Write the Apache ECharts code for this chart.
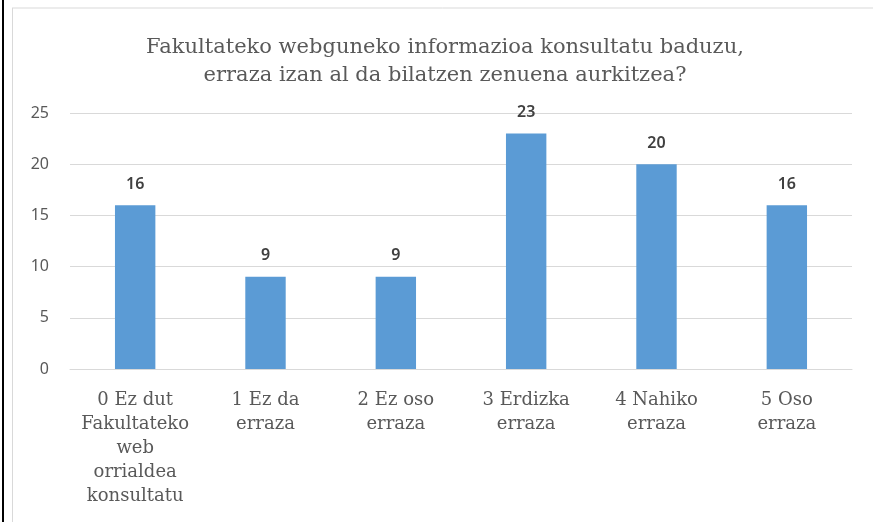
<!DOCTYPE html>
<html>
<head>
<meta charset="utf-8">
<script src="https://cdn.jsdelivr.net/npm/echarts@6/dist/echarts.min.js"></script>
<style>
  html, body { margin: 0; padding: 0; background: #fff; }
  #chart { width: 873px; height: 522px; }
</style>
</head>
<body>
<div id="chart"></div>
<script>
  const categories = [
    "0 Ez dut\nFakultateko\nweb\norrialdea\nkonsultatu",
    "1 Ez da\nerraza",
    "2 Ez oso\nerraza",
    "3 Erdizka\nerraza",
    "4 Nahiko\nerraza",
    "5 Oso\nerraza"
  ];
  const values = [16, 9, 9, 23, 20, 16];
  const yTicks = [0, 5, 10, 15, 20, 25];

  const chart = echarts.init(document.getElementById("chart"));
  const option = {
    animation: false,
    title: {
      text: "Fakultateko webguneko informazioa konsultatu baduzu,\nerraza izan al da bilatzen zenuena aurkitzea?",
      left: 440,
      top: 29,
      textAlign: "center",
      textStyle: {
        fontFamily: "DejaVu Serif",
        fontSize: 21,
        fontWeight: "normal",
        color: "#595959",
        lineHeight: 28
      }
    },
    graphic: [
      { type: "rect", shape: { x: 2, y: 0, width: 2, height: 522 }, style: { fill: "#000" } },
      { type: "line", shape: { x1: 12, y1: 8, x2: 873, y2: 8 }, style: { stroke: "#d9d9d9", lineWidth: 1 } },
      { type: "line", shape: { x1: 12.5, y1: 8, x2: 12.5, y2: 522 }, style: { stroke: "#d9d9d9", lineWidth: 1 } }
    ],
    grid: { left: 70, right: 21, top: 113, bottom: 153 },
    xAxis: {
      type: "category",
      data: categories,
      axisLine: { lineStyle: { color: "#d9d9d9" } },
      axisTick: { show: false },
      axisLabel: {
        interval: 0,
        margin: 19,
        fontFamily: "DejaVu Serif",
        fontSize: 18,
        lineHeight: 24,
        color: "#595959"
      }
    },
    yAxis: {
      type: "value",
      min: yTicks[0],
      max: yTicks[yTicks.length - 1],
      interval: 5,
      axisLine: { show: false },
      axisTick: { show: false },
      splitLine: { lineStyle: { color: "#d9d9d9" } },
      axisLabel: {
        margin: 21,
        fontFamily: "Noto Sans",
        fontSize: 16,
        color: "#595959"
      }
    },
    series: [{
      type: "bar",
      data: values,
      barWidth: "31%",
      itemStyle: { color: "#5b9bd5" },
      label: {
        show: true,
        position: "top",
        distance: 13,
        fontFamily: "Noto Sans",
        fontSize: 16,
        fontWeight: 600,
        color: "#404040"
      }
    }]
  };
  chart.setOption(option);
</script>
</body>
</html>
